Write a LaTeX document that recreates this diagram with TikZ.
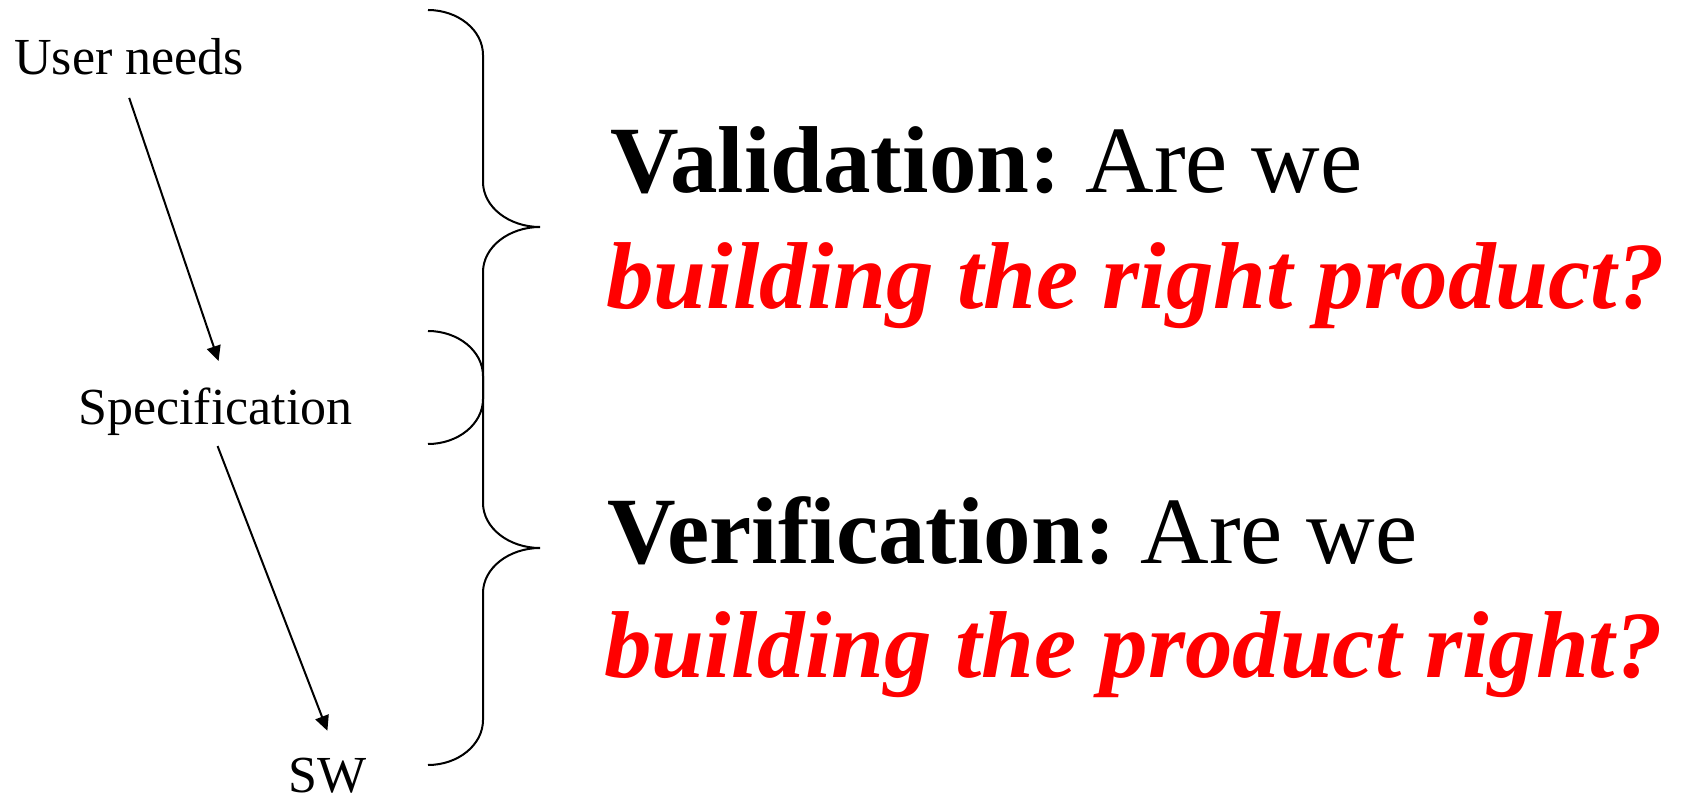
\documentclass[tikz,border=0pt]{standalone}
\usepackage{fontspec}
\setmainfont{Liberation Serif}
\usetikzlibrary{arrows.meta}
\begin{document}
\begin{tikzpicture}[x=0.5pt,y=-0.5pt,
  small/.style={font=\fontsize{26}{31}\selectfont, inner sep=0pt, anchor=base west},
  big/.style={font=\fontsize{47.5}{57}\selectfont, inner sep=0pt, anchor=base west},
  redq/.style={big, text=red, font=\fontsize{47.5}{57}\selectfont\bfseries\itshape},
  arr/.style={line width=1pt, -{Triangle[length=7.5pt,width=7pt]}},
  bracepath/.style={line width=1pt}]
\useasboundingbox (0,0) rectangle (1684,795);

\node[small] (un) at (14,75) {User needs};
\node[small] (spec) at (78,425) {Specification};
\node[small] (sw) at (288,792) {SW};

\node[big] (val) at (610,193) {\textbf{Validation:}\hspace{0.26em}Are we};
\node[redq] (valq) at (606,309) {building the right product?};
\node[big] (ver) at (607,563) {\textbf{Verification:}\hspace{0.26em}Are we};
\node[redq] (verq) at (604,677) {building the product right?};

\draw[arr] ([yshift=-11pt]un.south) -- ([xshift=1.5pt,yshift=13.5pt]spec.north);
\draw[arr] ([xshift=1pt,yshift=-4.8pt]spec.south) -- ([yshift=13.2pt]sw.north);

% brace: validation
\draw[bracepath] (428,10) .. controls (458,10) and (483,30) .. (483,55)
  -- (483,182) .. controls (483,207) and (509,227) .. (540,227)
  .. controls (509,227) and (483,247) .. (483,272)
  -- (483,399) .. controls (483,424) and (458,444) .. (428,444);
% brace: verification
\draw[bracepath] (428,331) .. controls (458,331) and (483,351) .. (483,376)
  -- (483,503) .. controls (483,528) and (509,548) .. (540,548)
  .. controls (509,548) and (483,568) .. (483,593)
  -- (483,720) .. controls (483,745) and (458,765) .. (428,765);
\end{tikzpicture}
\end{document}
